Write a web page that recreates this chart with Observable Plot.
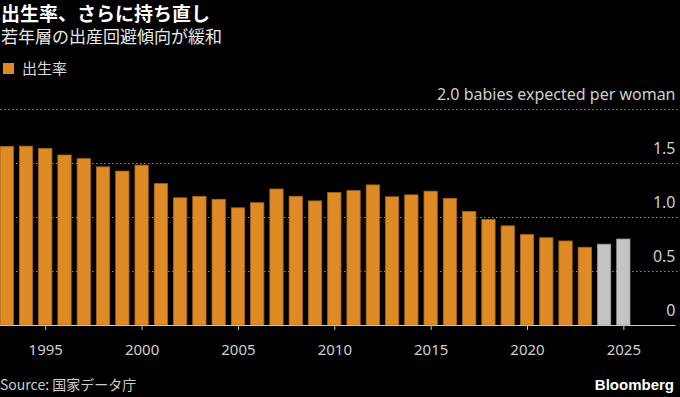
<!DOCTYPE html>
<html>
<head>
<meta charset="utf-8">
<script src="https://cdn.jsdelivr.net/npm/d3@7"></script>
<script src="https://cdn.jsdelivr.net/npm/@observablehq/plot@0.6"></script>
<style>
  html, body { margin: 0; padding: 0; background: #000; }
  body { width: 680px; height: 397px; position: relative; overflow: hidden;
         font-family: "Noto Sans CJK JP", "Noto Sans", sans-serif; color: #fff; }
  #title { position: absolute; left: 1px; top: 2px; font-size: 19px; line-height: 21px; font-weight: bold; color: #fff; white-space: nowrap; }
  #subtitle { position: absolute; left: 1px; top: 26px; font-size: 17px; line-height: 19px; color: #e8e8e8; white-space: nowrap; }
  #legend { position: absolute; left: 3px; top: 59px; font-size: 15px; line-height: 18px; color: #ddd; display: flex; align-items: center; white-space: nowrap; }
  #legend .sw { width: 11px; height: 11px; background: #de8b25; margin-right: 8px; }
  #chart { position: absolute; left: 0; top: 80px; }
  #source { position: absolute; left: 0; top: 376px; font-size: 14px; line-height: 17px; color: #ccc; white-space: nowrap; }
  #brand { position: absolute; right: 6px; top: 376px; font-size: 15px; line-height: 17px; font-weight: bold; color: #fff; font-family: "Liberation Sans", Arial, sans-serif; }
</style>
</head>
<body>
<div id="title">出生率、さらに持ち直し</div>
<div id="subtitle">若年層の出産回避傾向が緩和</div>
<div id="legend"><div class="sw"></div><span>出生率</span></div>
<div id="chart"></div>
<div id="source">Source: 国家データ庁</div>
<div id="brand">Bloomberg</div>
<script>
const years = [1993,1994,1995,1996,1997,1998,1999,2000,2001,2002,2003,2004,2005,2006,2007,2008,2009,2010,2011,2012,2013,2014,2015,2016,2017,2018,2019,2020,2021,2022,2023,2024,2025];
const rates = [1.654,1.656,1.634,1.574,1.540,1.464,1.425,1.480,1.309,1.178,1.191,1.164,1.085,1.132,1.259,1.192,1.149,1.226,1.244,1.297,1.187,1.205,1.239,1.172,1.052,0.977,0.918,0.837,0.808,0.778,0.720,0.748,0.796];
const estimateYears = [2024, 2025];
const gridValues = [0.5, 1.0, 1.5, 2.0];
const labelValues = [0, 0.5, 1.0, 1.5, 2.0];
const labelTexts = ["0", "0.5", "1.0", "1.5", "2.0 babies expected per woman"];
const xTicks = [1995, 2000, 2005, 2010, 2015, 2020, 2025];

const data = years.map((y, i) => ({year: y, rate: rates[i], est: estimateYears.includes(y)}));
const labels = labelValues.map((v, i) => ({v, t: labelTexts[i]}));

const halfBar = 0.345;

const chart = Plot.plot({
  width: 680,
  height: 290,
  marginTop: 29,
  marginBottom: 45,
  marginLeft: 0,
  marginRight: 0,
  style: {background: "#000", color: "#ccc", fontFamily: "'Noto Sans', sans-serif", fontSize: "15px", overflow: "visible"},
  x: {domain: [1992.652, 2027.94], axis: null},
  y: {domain: [0, 2], axis: null},
  marks: [
    Plot.ruleY(gridValues, {stroke: "#8a8a8a", strokeWidth: 1, strokeDasharray: "1.5,2.5"}),
    Plot.text(labels, {y: "v", text: "t", frameAnchor: "right", textAnchor: "end", lineAnchor: "bottom", dx: -5, dy: -10, fill: "#cfcfcf", fontSize: 16}),
    Plot.rectY(data, {
      x1: d => d.year - halfBar,
      x2: d => d.year + halfBar,
      y: "rate",
      fill: d => d.est ? "#c4c4c4" : "#de8b25",
      stroke: d => d.est ? "#9a9a9a" : "#a9661b",
      strokeWidth: 0.8
    }),
    Plot.ruleY([0], {stroke: "#c8c8c8", strokeWidth: 1, x1: 1992.652, x2: 2027.7}),
    Plot.axisX({ticks: xTicks, tickSize: 5, tickPadding: 14, tickFormat: d => String(d), stroke: "#c8c8c8", fill: "#cfcfcf", fontSize: 15})
  ]
});
document.getElementById("chart").appendChild(chart);
</script>
</body>
</html>
